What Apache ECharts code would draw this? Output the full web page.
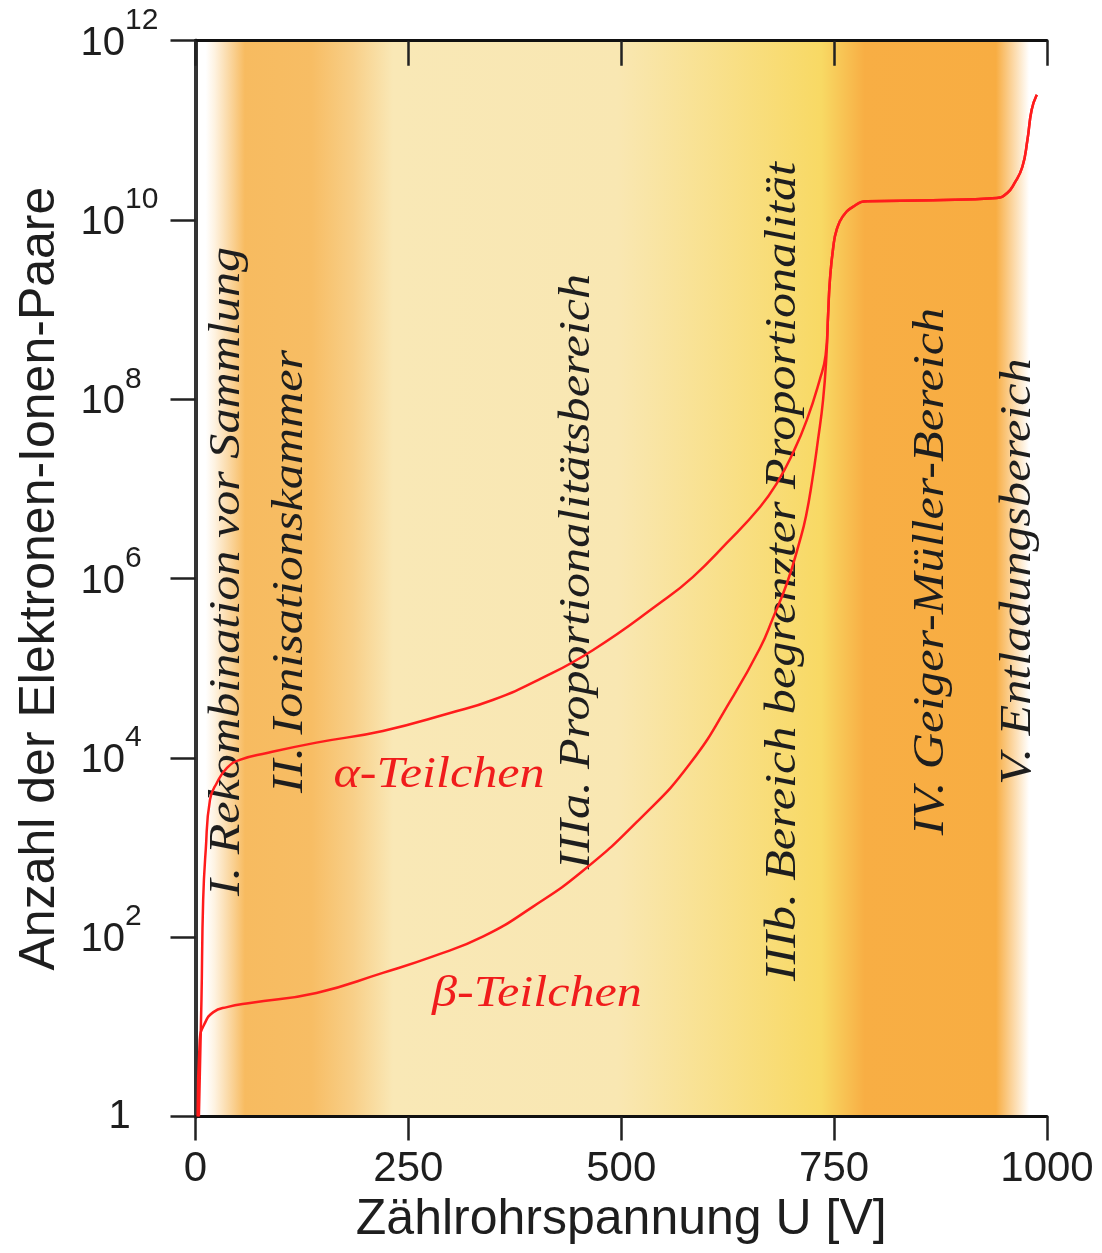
<!DOCTYPE html>
<html><head><meta charset="utf-8">
<script src="https://cdn.jsdelivr.net/npm/echarts@6/dist/echarts.min.js"></script>
<style>html,body{margin:0;padding:0;background:#fff}#c{width:1102px;height:1253px}</style>
</head><body><div id="c"></div>
<script>
// ---- data ----
const xTicks = [0, 250, 500, 750, 1000];
const alphaU = [4, 7, 9, 12, 17, 25, 37, 52, 84, 142, 220, 299, 349, 405, 467, 545, 584, 624, 663, 683, 702, 718, 733, 740];
const alphaN = [1, 20, 260, 935, 3400, 5250, 7750, 9500, 11350, 14800, 20000, 31700, 44200, 7.6e4, 1.6e5, 5.3e5, 1.04e6, 2.5e6, 6.3e6, 1.17e7, 2.57e7, 5.9e7, 1.64e8, 3.1e8];
const betaU = [2.5, 5, 11, 21, 37, 64, 142, 220, 279, 338, 396, 455, 522, 581, 631, 663, 678, 695, 710, 717, 724, 731, 737, 741];
const betaN = [1, 7.1, 11, 14.6, 16.6, 18.5, 23.9, 40, 61, 102, 218, 550, 2090, 8700, 4.8e4, 1.68e5, 3.6e5, 9.1e5, 2.7e6, 5.0e6, 1.2e7, 3.5e7, 9.8e7, 3.1e8];
const sharedU = [743, 745, 749, 753, 760, 772, 789, 866, 941, 953, 962, 971, 977, 982, 988];
const sharedN = [9.1e8, 2.1e9, 5.0e9, 7.8e9, 1.09e10, 1.40e10, 1.62e10, 1.66e10, 1.76e10, 1.99e10, 2.6e10, 3.9e10, 7.8e10, 1.7e11, 2.5e11];
const regionTexts = ['I. Rekombination vor Sammlung', 'II. Ionisationskammer', 'IIIa. Proportionalitätsbereich', 'IIIb. Bereich begrenzter Proportionalität', 'IV. Geiger-Müller-Bereich', 'V. Entladungsbereich'];
const regionU = [38, 112, 449, 691, 864, 966];
const regionN = [1.2e6, 1.2e6, 1.2e6, 1.2e6, 1.2e6, 1.2e6];
const particleTexts = ['α-Teilchen', 'β-Teilchen'];
const particleU = [286, 401];
const particleN = [6450, 23];

// ---- build ----
const pairs = (u, n) => u.map((v, i) => [v, n[i]]);
const alphaData = pairs(alphaU.concat(sharedU), alphaN.concat(sharedN));
const betaData = pairs(betaU.concat(sharedU), betaN.concat(sharedN));
const sans = '"Liberation Sans", Arial, sans-serif';
const serif = '"Liberation Serif", "DejaVu Serif", serif';
const txt = '#1e1e1e';

const bg = new echarts.graphic.LinearGradient(0, 0, 1, 0, [
  {offset: 0, color: '#ffffff'},
  {offset: 0.012, color: '#ffffff'},
  {offset: 0.022, color: '#fef3e2'},
  {offset: 0.058, color: '#f7bb60'},
  {offset: 0.136, color: '#f7bd64'},
  {offset: 0.185, color: '#f8cf88'},
  {offset: 0.232, color: '#f9e8b6'},
  {offset: 0.496, color: '#f9e7b2'},
  {offset: 0.735, color: '#f8d964'},
  {offset: 0.786, color: '#f8ae44'},
  {offset: 0.940, color: '#f8ad42'},
  {offset: 0.979, color: '#ffffff'},
  {offset: 1, color: '#ffffff'}
]);

const chart = echarts.init(document.getElementById('c'), null, {renderer: 'canvas'});
const lineStyle = {color: '#ff1c1c', width: 2.5};

chart.setOption({
  animation: false,
  backgroundColor: '#ffffff',
  grid: {left: 195.5, right: 55, top: 40.7, bottom: 136.5, show: true, backgroundColor: bg, borderWidth: 0},
  xAxis: [{
    type: 'value', position: 'bottom', min: xTicks[0], max: xTicks[xTicks.length - 1], interval: 250,
    axisLine: {lineStyle: {color: '#111', width: 3}},
    axisTick: {inside: false, length: 24, lineStyle: {color: '#222', width: 2.5}},
    axisLabel: {fontSize: 42, fontFamily: sans, color: txt, margin: 32, formatter: v => String(v)},
    splitLine: {show: false},
    name: 'Zählrohrspannung U [V]', nameLocation: 'middle', nameGap: 78,
    nameTextStyle: {fontSize: 50, fontFamily: sans, color: txt}
  }, {
    type: 'value', position: 'top', min: 0, max: 1000, interval: 250,
    axisLine: {lineStyle: {color: '#111', width: 3}},
    axisTick: {inside: true, length: 25, lineStyle: {color: '#222', width: 2.5}},
    axisLabel: {show: false}, splitLine: {show: false}
  }],
  yAxis: [{
    type: 'log', logBase: 10, position: 'left', min: 1, max: 1e12, interval: 2,
    axisLine: {lineStyle: {color: '#111', width: 4}},
    axisTick: {inside: false, length: 23, lineStyle: {color: '#222', width: 2.5}},
    axisLabel: {
      margin: 115, align: 'left', fontFamily: sans, color: txt,
      formatter: v => {
        const e = Math.round(Math.log10(v));
        return e === 0 ? '{one|1}' : '{b|10}{s|' + e + '}';
      },
      rich: {
        b: {fontSize: 40, fontFamily: sans, color: txt, padding: [18, 0, 12, 0]},
        s: {fontSize: 30, fontFamily: sans, color: txt, verticalAlign: 'top'},
        one: {fontSize: 40, fontFamily: sans, color: txt, padding: [0, 0, 0, 28]}
      }
    },
    splitLine: {show: false},
    name: 'Anzahl der Elektronen-Ionen-Paare', nameLocation: 'middle', nameGap: 130,
    nameTextStyle: {fontSize: 50, fontFamily: sans, color: txt}
  }, {
    type: 'log', logBase: 10, position: 'right', min: 1, max: 1e12, interval: 2,
    axisLine: {lineStyle: {color: '#333', width: 4}},
    axisTick: {inside: true, length: 25, lineStyle: {color: '#222', width: 2.5}},
    axisLabel: {show: false}, splitLine: {show: false}
  }],
  series: [{
    type: 'custom', z: 1, silent: true,
    data: pairs(regionU, regionN),
    renderItem: (params, api) => {
      const p = api.coord([api.value(0), api.value(1)]);
      return {type: 'text', x: p[0], y: p[1], rotation: Math.PI / 2, scaleX: 1.14, scaleY: 1,
        style: {text: regionTexts[params.dataIndex], fill: txt, fontSize: 44, fontStyle: 'italic', fontFamily: serif,
          align: 'center', verticalAlign: 'middle'}};
    }
  }, {
    type: 'custom', z: 1, silent: true,
    data: pairs(particleU, particleN),
    renderItem: (params, api) => {
      const p = api.coord([api.value(0), api.value(1)]);
      return {type: 'text', x: p[0], y: p[1], scaleX: 1.14, scaleY: 1,
        style: {text: particleTexts[params.dataIndex], fill: '#f01c1c', fontSize: 44, fontStyle: 'italic', fontFamily: serif,
          align: 'center', verticalAlign: 'middle'}};
    }
  }, {
    name: 'alpha', type: 'line', z: 3, data: alphaData, showSymbol: false, smooth: 0.5, lineStyle: lineStyle, silent: true
  }, {
    name: 'beta', type: 'line', z: 3, data: betaData, showSymbol: false, smooth: 0.5, lineStyle: lineStyle, silent: true
  }]
});
</script></body></html>
